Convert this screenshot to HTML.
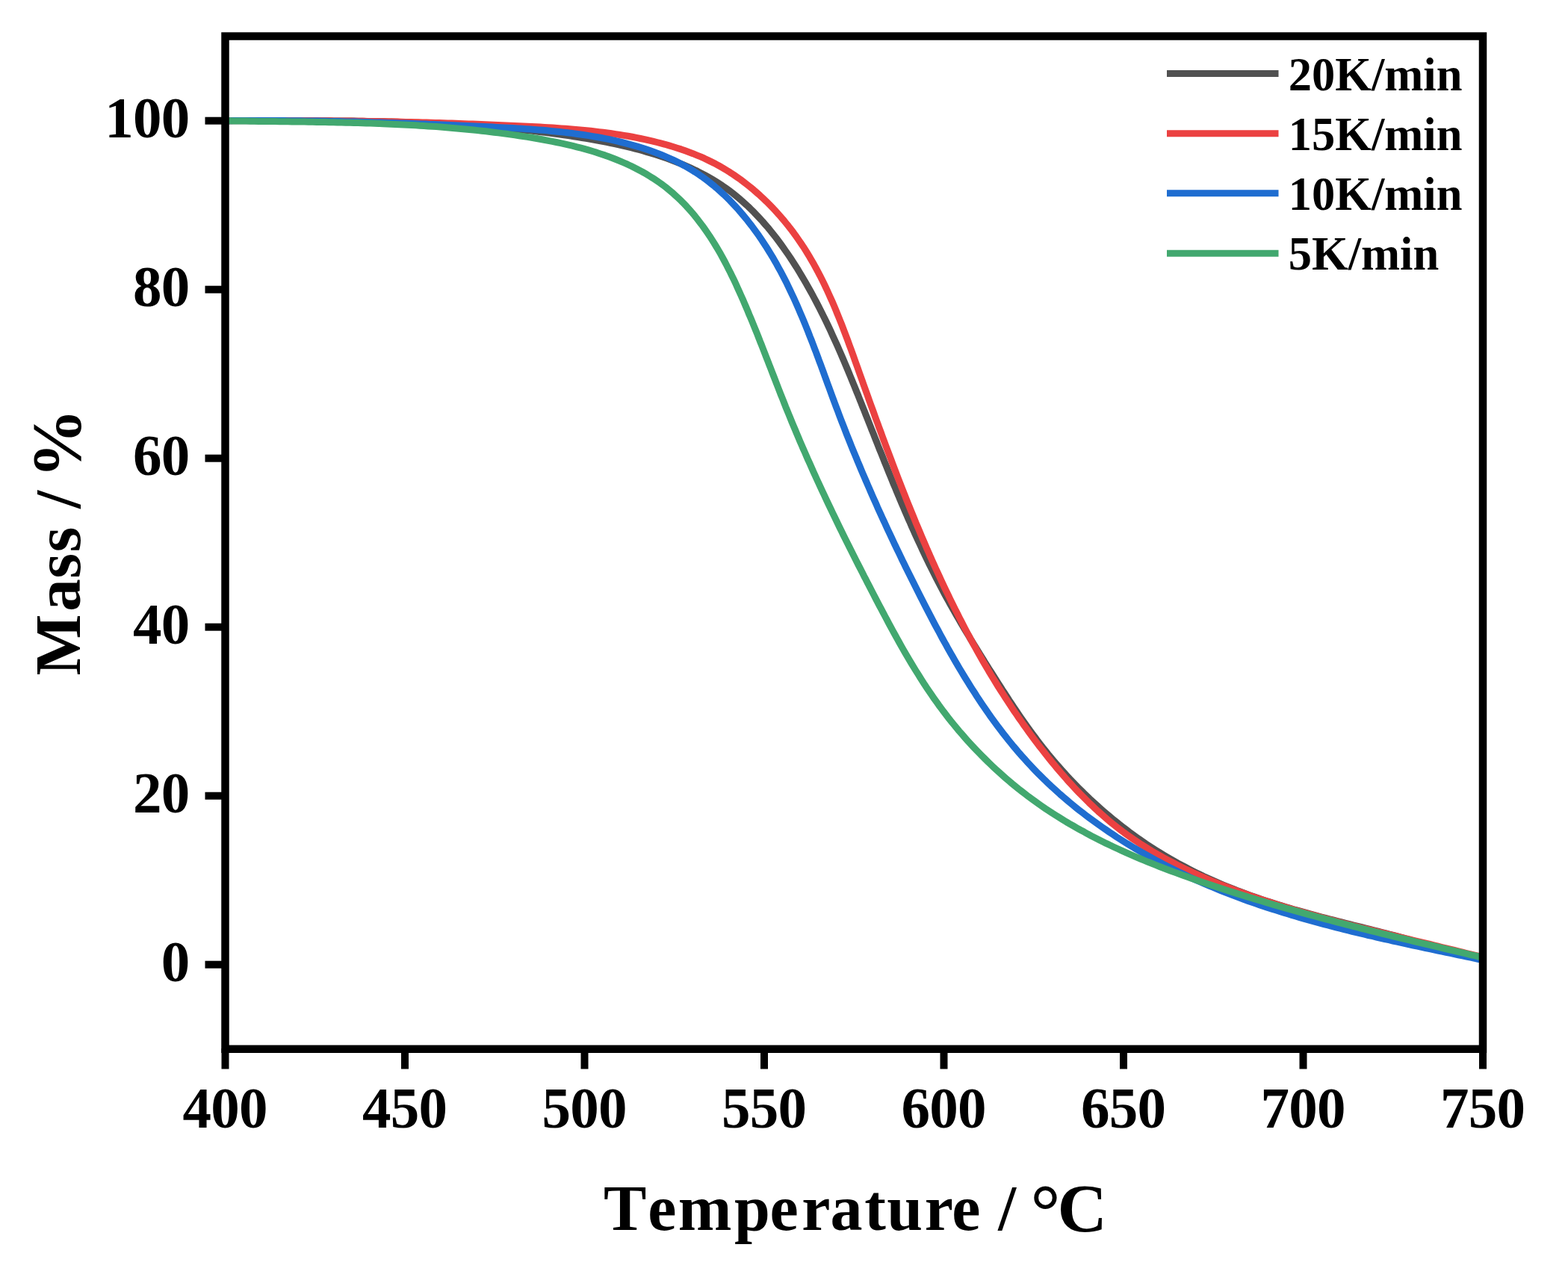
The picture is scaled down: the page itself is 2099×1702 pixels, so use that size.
<!DOCTYPE html>
<html><head><meta charset="utf-8"><title>TGA curves</title>
<style>
html,body{margin:0;padding:0;background:#fff;}
body{width:2099px;height:1702px;overflow:hidden;}
svg{display:block;}
text{font-family:'Liberation Serif','Times New Roman',serif;font-weight:bold;fill:#000;}
.tk{font-size:79px;letter-spacing:-0.8px;}
.lg{font-size:62.5px;}
.ax{font-size:88px;letter-spacing:1.15px;}
</style></head>
<body>
<svg width="2099" height="1702" viewBox="0 0 2099 1702">
<rect width="2099" height="1702" fill="#fff"/>
<path d="M301.5,161.7 L307.1,161.7 L312.6,161.7 L318.2,161.7 L323.8,161.7 L329.3,161.7 L334.9,161.7 L340.5,161.7 L346.0,161.7 L351.6,161.7 L357.2,161.7 L362.8,161.7 L368.3,161.7 L373.9,161.6 L379.5,161.6 L385.0,161.6 L390.6,161.6 L396.2,161.7 L401.7,161.7 L407.3,161.7 L412.9,161.7 L418.4,161.7 L424.0,161.7 L429.6,161.8 L435.1,161.8 L440.7,161.8 L446.3,161.9 L451.8,161.9 L457.4,162.0 L463.0,162.0 L468.5,162.1 L474.1,162.1 L479.7,162.2 L485.2,162.3 L490.8,162.4 L496.3,162.5 L501.9,162.6 L507.5,162.7 L513.0,162.8 L518.6,163.0 L524.2,163.1 L529.7,163.3 L535.3,163.4 L540.8,163.6 L546.4,163.8 L551.9,164.0 L557.5,164.2 L563.1,164.4 L568.6,164.6 L574.2,164.8 L579.7,165.1 L585.3,165.3 L590.8,165.6 L596.4,165.9 L601.9,166.2 L607.5,166.5 L613.0,166.8 L618.6,167.2 L624.1,167.5 L629.7,167.9 L635.2,168.3 L640.8,168.7 L646.3,169.1 L651.8,169.5 L657.4,170.0 L662.9,170.4 L668.5,170.9 L674.0,171.4 L679.6,171.9 L685.1,172.5 L690.6,173.0 L696.2,173.6 L701.7,174.2 L707.2,174.8 L712.8,175.4 L718.3,176.0 L723.8,176.7 L729.3,177.4 L734.9,178.1 L740.4,178.8 L745.9,179.5 L751.4,180.3 L757.0,181.1 L762.5,181.9 L768.0,182.7 L773.5,183.6 L779.0,184.5 L784.5,185.4 L790.1,186.3 L795.6,187.3 L801.0,188.3 L806.5,189.3 L812.0,190.4 L817.5,191.5 L822.9,192.7 L828.4,193.9 L833.8,195.1 L839.3,196.4 L844.7,197.7 L850.1,199.1 L855.5,200.5 L860.9,202.0 L866.2,203.6 L871.6,205.1 L876.9,206.8 L882.2,208.5 L887.5,210.3 L892.8,212.1 L898.0,214.0 L903.2,216.0 L908.4,218.1 L913.6,220.2 L918.7,222.4 L923.8,224.6 L928.8,227.0 L933.8,229.4 L938.7,231.9 L943.6,234.5 L948.5,237.2 L953.2,239.9 L958.0,242.8 L962.6,245.8 L967.2,248.8 L971.7,252.0 L976.2,255.2 L980.6,258.5 L984.9,262.0 L989.1,265.5 L993.3,269.1 L997.4,272.8 L1001.5,276.5 L1005.4,280.4 L1009.4,284.3 L1013.2,288.3 L1017.0,292.4 L1020.8,296.5 L1024.4,300.7 L1028.1,304.9 L1031.6,309.3 L1035.1,313.6 L1038.6,318.0 L1042.0,322.5 L1045.3,327.0 L1048.6,331.6 L1051.8,336.2 L1055.0,340.8 L1058.2,345.5 L1061.2,350.2 L1064.3,355.0 L1067.3,359.7 L1070.2,364.5 L1073.1,369.3 L1076.0,374.2 L1078.8,379.0 L1081.6,383.9 L1084.3,388.7 L1087.0,393.6 L1089.6,398.5 L1092.2,403.4 L1094.8,408.4 L1097.3,413.3 L1099.8,418.3 L1102.3,423.2 L1104.8,428.2 L1107.2,433.2 L1109.6,438.2 L1111.9,443.2 L1114.2,448.3 L1116.5,453.3 L1118.8,458.3 L1121.1,463.4 L1123.3,468.5 L1125.5,473.5 L1127.7,478.6 L1129.9,483.7 L1132.0,488.8 L1134.2,493.9 L1136.3,499.0 L1138.4,504.1 L1140.5,509.2 L1142.6,514.4 L1144.7,519.5 L1146.8,524.7 L1148.9,529.8 L1150.9,535.0 L1153.0,540.1 L1155.0,545.3 L1157.1,550.4 L1159.1,555.6 L1161.2,560.8 L1163.2,565.9 L1165.3,571.1 L1167.3,576.3 L1169.4,581.4 L1171.4,586.6 L1173.5,591.8 L1175.5,597.0 L1177.6,602.2 L1179.7,607.3 L1181.8,612.5 L1183.8,617.7 L1185.9,622.8 L1188.0,628.0 L1190.1,633.2 L1192.2,638.4 L1194.3,643.5 L1196.4,648.7 L1198.6,653.8 L1200.7,659.0 L1202.9,664.1 L1205.0,669.3 L1207.2,674.4 L1209.4,679.5 L1211.6,684.7 L1213.8,689.8 L1216.0,694.9 L1218.3,700.0 L1220.5,705.1 L1222.8,710.2 L1225.1,715.3 L1227.4,720.3 L1229.7,725.4 L1232.1,730.4 L1234.4,735.5 L1236.8,740.5 L1239.2,745.6 L1241.6,750.6 L1244.0,755.6 L1246.5,760.6 L1249.0,765.5 L1251.5,770.5 L1254.0,775.5 L1256.6,780.4 L1259.1,785.3 L1261.7,790.2 L1264.3,795.1 L1267.0,800.0 L1269.7,804.9 L1272.4,809.8 L1275.1,814.6 L1277.8,819.4 L1280.6,824.3 L1283.4,829.1 L1286.2,833.9 L1289.0,838.6 L1291.8,843.4 L1294.7,848.2 L1297.6,852.9 L1300.4,857.7 L1303.3,862.4 L1306.3,867.2 L1309.2,871.9 L1312.1,876.6 L1315.1,881.3 L1318.0,886.1 L1321.0,890.8 L1323.9,895.5 L1326.9,900.2 L1329.9,904.9 L1332.9,909.6 L1335.8,914.3 L1338.8,919.0 L1341.8,923.7 L1344.9,928.3 L1347.9,933.0 L1350.9,937.7 L1354.0,942.3 L1357.1,946.9 L1360.2,951.5 L1363.3,956.2 L1366.4,960.7 L1369.6,965.3 L1372.8,969.9 L1376.0,974.4 L1379.3,978.9 L1382.6,983.4 L1385.9,987.8 L1389.2,992.3 L1392.6,996.7 L1396.0,1001.1 L1399.5,1005.4 L1403.0,1009.8 L1406.6,1014.1 L1410.1,1018.3 L1413.8,1022.6 L1417.4,1026.8 L1421.1,1031.0 L1424.8,1035.1 L1428.6,1039.2 L1432.4,1043.3 L1436.3,1047.3 L1440.1,1051.3 L1444.0,1055.3 L1448.0,1059.3 L1452.0,1063.2 L1456.0,1067.0 L1460.0,1070.9 L1464.1,1074.6 L1468.3,1078.4 L1472.4,1082.1 L1476.6,1085.8 L1480.8,1089.4 L1485.1,1093.0 L1489.4,1096.6 L1493.7,1100.1 L1498.0,1103.6 L1502.4,1107.0 L1506.9,1110.4 L1511.3,1113.8 L1515.8,1117.1 L1520.3,1120.3 L1524.8,1123.6 L1529.4,1126.7 L1534.0,1129.9 L1538.6,1132.9 L1543.3,1136.0 L1548.0,1139.0 L1552.7,1141.9 L1557.5,1144.8 L1562.2,1147.6 L1567.0,1150.4 L1571.9,1153.2 L1576.7,1155.9 L1581.6,1158.5 L1586.5,1161.1 L1591.5,1163.7 L1596.4,1166.2 L1601.4,1168.7 L1606.4,1171.1 L1611.4,1173.5 L1616.5,1175.8 L1621.6,1178.1 L1626.7,1180.4 L1631.8,1182.6 L1636.9,1184.8 L1642.0,1186.9 L1647.2,1189.0 L1652.4,1191.0 L1657.6,1193.1 L1662.8,1195.0 L1668.0,1197.0 L1673.2,1198.9 L1678.5,1200.8 L1683.7,1202.6 L1689.0,1204.4 L1694.3,1206.2 L1699.6,1207.9 L1704.9,1209.6 L1710.2,1211.3 L1715.5,1212.9 L1720.8,1214.5 L1726.2,1216.1 L1731.5,1217.7 L1736.8,1219.2 L1742.2,1220.7 L1747.6,1222.2 L1752.9,1223.7 L1758.3,1225.1 L1763.7,1226.6 L1769.0,1228.0 L1774.4,1229.4 L1779.8,1230.8 L1785.2,1232.2 L1790.6,1233.6 L1796.0,1234.9 L1801.4,1236.3 L1806.8,1237.7 L1812.2,1239.0 L1817.6,1240.4 L1823.0,1241.7 L1828.4,1243.1 L1833.8,1244.4 L1839.2,1245.8 L1844.6,1247.2 L1850.0,1248.6 L1855.3,1249.9 L1860.7,1251.3 L1866.1,1252.7 L1871.5,1254.2 L1876.9,1255.6 L1882.2,1257.1 L1887.6,1258.5 L1893.0,1260.0 L1898.3,1261.5 L1903.7,1263.1 L1909.0,1264.6 L1914.4,1266.2 L1919.7,1267.7 L1925.1,1269.2 L1930.4,1270.7 L1935.8,1272.2 L1941.2,1273.6 L1946.6,1275.0 L1952.0,1276.2 L1957.4,1277.4 L1962.9,1278.5 L1968.4,1279.5 L1973.9,1280.4 L1979.4,1281.2 L1985.0,1281.8" fill="none" stroke="#515151" stroke-width="9.0" stroke-linejoin="round" stroke-linecap="butt"/>
<path d="M301.5,161.7 L307.2,161.7 L312.8,161.6 L318.5,161.6 L324.1,161.6 L329.8,161.6 L335.4,161.5 L341.1,161.5 L346.7,161.5 L352.3,161.5 L358.0,161.5 L363.6,161.5 L369.2,161.5 L374.9,161.5 L380.5,161.5 L386.1,161.5 L391.7,161.5 L397.4,161.5 L403.0,161.5 L408.6,161.6 L414.2,161.6 L419.8,161.6 L425.5,161.7 L431.1,161.7 L436.7,161.8 L442.3,161.8 L447.9,161.9 L453.5,161.9 L459.1,162.0 L464.7,162.0 L470.3,162.1 L475.9,162.2 L481.5,162.3 L487.2,162.3 L492.8,162.4 L498.4,162.5 L504.0,162.6 L509.6,162.7 L515.2,162.8 L520.8,162.9 L526.4,163.0 L532.0,163.1 L537.6,163.3 L543.2,163.4 L548.8,163.5 L554.4,163.7 L560.0,163.8 L565.6,163.9 L571.2,164.1 L576.8,164.2 L582.4,164.4 L588.0,164.6 L593.6,164.7 L599.3,164.9 L604.9,165.1 L610.5,165.3 L616.1,165.5 L621.7,165.7 L627.3,165.9 L632.9,166.1 L638.6,166.3 L644.2,166.5 L649.8,166.7 L655.4,167.0 L661.0,167.2 L666.7,167.4 L672.3,167.7 L677.9,167.9 L683.6,168.2 L689.2,168.4 L694.8,168.7 L700.5,169.0 L706.1,169.3 L711.7,169.5 L717.4,169.8 L723.0,170.1 L728.7,170.5 L734.3,170.8 L740.0,171.1 L745.6,171.5 L751.2,171.9 L756.9,172.3 L762.5,172.8 L768.1,173.2 L773.8,173.7 L779.4,174.2 L785.0,174.8 L790.6,175.3 L796.2,176.0 L801.8,176.6 L807.4,177.3 L813.0,178.0 L818.6,178.8 L824.2,179.6 L829.7,180.5 L835.3,181.4 L840.8,182.3 L846.4,183.3 L851.9,184.4 L857.4,185.5 L862.9,186.6 L868.4,187.9 L873.9,189.1 L879.3,190.5 L884.8,191.9 L890.2,193.3 L895.6,194.9 L901.0,196.5 L906.4,198.2 L911.8,199.9 L917.1,201.8 L922.3,203.7 L927.6,205.7 L932.8,207.8 L938.0,209.9 L943.1,212.2 L948.1,214.6 L953.2,217.1 L958.1,219.6 L963.0,222.3 L967.9,225.1 L972.7,228.0 L977.4,230.9 L982.1,234.0 L986.7,237.2 L991.3,240.4 L995.8,243.8 L1000.2,247.2 L1004.6,250.7 L1008.9,254.3 L1013.1,258.0 L1017.3,261.7 L1021.4,265.5 L1025.5,269.4 L1029.5,273.4 L1033.4,277.4 L1037.3,281.5 L1041.1,285.7 L1044.8,289.9 L1048.5,294.2 L1052.0,298.5 L1055.6,302.9 L1059.0,307.3 L1062.4,311.8 L1065.7,316.4 L1068.9,321.0 L1072.1,325.6 L1075.2,330.2 L1078.2,334.9 L1081.1,339.7 L1084.0,344.4 L1086.8,349.3 L1089.6,354.1 L1092.3,359.0 L1094.9,363.9 L1097.5,368.8 L1100.0,373.8 L1102.5,378.8 L1104.9,383.8 L1107.3,388.9 L1109.6,394.0 L1111.9,399.1 L1114.2,404.2 L1116.4,409.3 L1118.6,414.5 L1120.7,419.7 L1122.8,424.9 L1124.9,430.1 L1127.0,435.3 L1129.0,440.6 L1131.0,445.8 L1133.0,451.1 L1135.0,456.4 L1136.9,461.7 L1138.9,467.0 L1140.8,472.3 L1142.7,477.6 L1144.6,482.9 L1146.5,488.2 L1148.4,493.6 L1150.3,498.9 L1152.2,504.2 L1154.1,509.5 L1156.0,514.9 L1157.9,520.2 L1159.8,525.5 L1161.7,530.8 L1163.6,536.2 L1165.5,541.5 L1167.5,546.8 L1169.4,552.1 L1171.3,557.4 L1173.2,562.7 L1175.2,568.0 L1177.1,573.4 L1179.1,578.7 L1181.0,584.0 L1183.0,589.3 L1184.9,594.6 L1186.9,599.9 L1188.9,605.2 L1190.9,610.4 L1192.9,615.7 L1194.9,621.0 L1196.9,626.3 L1198.9,631.6 L1200.9,636.8 L1202.9,642.1 L1205.0,647.4 L1207.0,652.6 L1209.1,657.9 L1211.2,663.1 L1213.2,668.3 L1215.3,673.6 L1217.4,678.8 L1219.5,684.0 L1221.7,689.2 L1223.8,694.4 L1225.9,699.7 L1228.1,704.8 L1230.3,710.0 L1232.5,715.2 L1234.6,720.4 L1236.9,725.6 L1239.1,730.7 L1241.3,735.9 L1243.6,741.0 L1245.8,746.2 L1248.1,751.3 L1250.4,756.4 L1252.7,761.5 L1255.1,766.6 L1257.4,771.7 L1259.8,776.8 L1262.1,781.9 L1264.5,787.0 L1266.9,792.0 L1269.4,797.1 L1271.8,802.1 L1274.3,807.2 L1276.8,812.2 L1279.2,817.2 L1281.8,822.2 L1284.3,827.2 L1286.9,832.2 L1289.4,837.1 L1292.0,842.1 L1294.6,847.0 L1297.3,852.0 L1299.9,856.9 L1302.6,861.8 L1305.3,866.7 L1308.0,871.6 L1310.8,876.5 L1313.5,881.3 L1316.3,886.2 L1319.1,891.0 L1322.0,895.8 L1324.8,900.7 L1327.7,905.5 L1330.6,910.2 L1333.6,915.0 L1336.5,919.8 L1339.5,924.5 L1342.5,929.2 L1345.5,933.9 L1348.6,938.6 L1351.7,943.3 L1354.8,948.0 L1357.9,952.7 L1361.1,957.3 L1364.2,961.9 L1367.5,966.5 L1370.7,971.1 L1374.0,975.7 L1377.3,980.3 L1380.6,984.8 L1383.9,989.3 L1387.3,993.9 L1390.7,998.4 L1394.2,1002.8 L1397.7,1007.3 L1401.2,1011.7 L1404.7,1016.2 L1408.3,1020.6 L1411.9,1024.9 L1415.5,1029.3 L1419.2,1033.6 L1422.9,1037.9 L1426.6,1042.1 L1430.4,1046.4 L1434.2,1050.6 L1438.0,1054.7 L1441.9,1058.8 L1445.8,1062.9 L1449.8,1066.9 L1453.8,1070.9 L1457.8,1074.9 L1461.9,1078.8 L1466.0,1082.7 L1470.1,1086.5 L1474.3,1090.2 L1478.5,1093.9 L1482.8,1097.6 L1487.1,1101.2 L1491.5,1104.7 L1495.9,1108.2 L1500.3,1111.6 L1504.8,1115.0 L1509.4,1118.3 L1513.9,1121.5 L1518.6,1124.7 L1523.2,1127.8 L1527.9,1130.9 L1532.7,1133.9 L1537.4,1136.9 L1542.2,1139.8 L1547.1,1142.6 L1551.9,1145.4 L1556.8,1148.2 L1561.8,1150.9 L1566.7,1153.5 L1571.7,1156.1 L1576.7,1158.7 L1581.7,1161.2 L1586.8,1163.7 L1591.9,1166.1 L1597.0,1168.5 L1602.1,1170.8 L1607.2,1173.2 L1612.4,1175.4 L1617.5,1177.6 L1622.7,1179.8 L1627.9,1182.0 L1633.1,1184.1 L1638.3,1186.2 L1643.6,1188.3 L1648.8,1190.3 L1654.1,1192.3 L1659.3,1194.2 L1664.6,1196.1 L1669.9,1198.0 L1675.2,1199.9 L1680.5,1201.7 L1685.8,1203.5 L1691.2,1205.3 L1696.5,1207.1 L1701.9,1208.8 L1707.2,1210.5 L1712.6,1212.2 L1717.9,1213.9 L1723.3,1215.5 L1728.7,1217.1 L1734.1,1218.7 L1739.5,1220.3 L1744.9,1221.8 L1750.3,1223.4 L1755.8,1224.9 L1761.2,1226.4 L1766.6,1227.9 L1772.0,1229.3 L1777.5,1230.8 L1782.9,1232.2 L1788.4,1233.7 L1793.8,1235.1 L1799.3,1236.5 L1804.8,1237.9 L1810.2,1239.3 L1815.7,1240.6 L1821.2,1242.0 L1826.6,1243.3 L1832.1,1244.7 L1837.6,1246.0 L1843.0,1247.4 L1848.5,1248.7 L1854.0,1250.0 L1859.5,1251.3 L1864.9,1252.7 L1870.4,1254.0 L1875.9,1255.3 L1881.4,1256.6 L1886.8,1257.9 L1892.3,1259.3 L1897.8,1260.6 L1903.2,1261.9 L1908.7,1263.2 L1914.2,1264.5 L1919.6,1265.9 L1925.1,1267.2 L1930.5,1268.5 L1936.0,1269.9 L1941.4,1271.2 L1946.9,1272.5 L1952.3,1273.9 L1957.8,1275.2 L1963.2,1276.5 L1968.7,1277.9 L1974.1,1279.2 L1979.6,1280.5 L1985.0,1281.8" fill="none" stroke="#eb4141" stroke-width="9.0" stroke-linejoin="round" stroke-linecap="butt"/>
<path d="M301.5,161.7 L307.1,161.7 L312.8,161.6 L318.4,161.6 L324.1,161.5 L329.7,161.5 L335.3,161.5 L340.9,161.5 L346.6,161.5 L352.2,161.5 L357.8,161.5 L363.4,161.5 L369.0,161.6 L374.6,161.6 L380.2,161.6 L385.8,161.7 L391.4,161.7 L397.0,161.8 L402.6,161.8 L408.2,161.9 L413.7,162.0 L419.3,162.0 L424.9,162.1 L430.5,162.2 L436.1,162.3 L441.6,162.4 L447.2,162.5 L452.8,162.6 L458.4,162.7 L463.9,162.9 L469.5,163.0 L475.1,163.1 L480.6,163.3 L486.2,163.4 L491.8,163.6 L497.4,163.7 L502.9,163.9 L508.5,164.0 L514.1,164.2 L519.6,164.4 L525.2,164.6 L530.8,164.7 L536.3,164.9 L541.9,165.1 L547.5,165.3 L553.0,165.5 L558.6,165.7 L564.2,165.9 L569.8,166.1 L575.3,166.4 L580.9,166.6 L586.5,166.8 L592.1,167.0 L597.6,167.3 L603.2,167.5 L608.8,167.8 L614.4,168.0 L620.0,168.3 L625.6,168.5 L631.2,168.8 L636.8,169.0 L642.4,169.3 L648.0,169.6 L653.6,169.8 L659.2,170.1 L664.8,170.4 L670.4,170.7 L676.0,171.0 L681.6,171.3 L687.2,171.6 L692.9,171.9 L698.5,172.3 L704.1,172.7 L709.7,173.0 L715.3,173.5 L720.9,173.9 L726.5,174.3 L732.1,174.8 L737.8,175.4 L743.4,175.9 L749.0,176.5 L754.5,177.1 L760.1,177.8 L765.7,178.4 L771.3,179.2 L776.9,180.0 L782.4,180.8 L788.0,181.6 L793.5,182.6 L799.1,183.5 L804.6,184.5 L810.2,185.6 L815.7,186.7 L821.2,187.9 L826.7,189.2 L832.2,190.5 L837.6,191.9 L843.1,193.3 L848.5,194.8 L853.9,196.4 L859.3,198.0 L864.7,199.8 L870.0,201.6 L875.3,203.5 L880.5,205.4 L885.7,207.5 L890.8,209.6 L895.9,211.8 L901.0,214.1 L906.0,216.6 L910.9,219.1 L915.8,221.7 L920.6,224.4 L925.3,227.2 L930.0,230.1 L934.6,233.1 L939.2,236.2 L943.6,239.4 L948.0,242.7 L952.3,246.1 L956.6,249.6 L960.8,253.2 L964.9,256.9 L969.0,260.6 L972.9,264.4 L976.9,268.3 L980.7,272.3 L984.5,276.4 L988.3,280.5 L991.9,284.7 L995.5,289.0 L999.1,293.3 L1002.5,297.7 L1006.0,302.1 L1009.3,306.6 L1012.6,311.1 L1015.9,315.7 L1019.0,320.3 L1022.1,325.0 L1025.2,329.7 L1028.2,334.5 L1031.2,339.3 L1034.1,344.1 L1036.9,349.0 L1039.7,353.8 L1042.4,358.8 L1045.1,363.7 L1047.7,368.6 L1050.3,373.6 L1052.8,378.6 L1055.3,383.7 L1057.7,388.7 L1060.1,393.8 L1062.5,398.9 L1064.8,404.0 L1067.1,409.1 L1069.3,414.2 L1071.5,419.4 L1073.7,424.5 L1075.9,429.7 L1078.0,434.9 L1080.1,440.1 L1082.2,445.3 L1084.2,450.6 L1086.3,455.8 L1088.3,461.0 L1090.3,466.3 L1092.3,471.5 L1094.3,476.8 L1096.2,482.1 L1098.2,487.3 L1100.1,492.6 L1102.1,497.9 L1104.0,503.2 L1105.9,508.4 L1107.8,513.7 L1109.8,519.0 L1111.7,524.2 L1113.6,529.5 L1115.6,534.8 L1117.5,540.0 L1119.5,545.3 L1121.5,550.5 L1123.4,555.7 L1125.4,561.0 L1127.4,566.2 L1129.5,571.4 L1131.5,576.6 L1133.5,581.8 L1135.6,587.0 L1137.7,592.2 L1139.7,597.3 L1141.8,602.5 L1144.0,607.7 L1146.1,612.8 L1148.2,618.0 L1150.4,623.1 L1152.5,628.2 L1154.7,633.4 L1156.9,638.5 L1159.1,643.6 L1161.3,648.7 L1163.5,653.8 L1165.7,658.9 L1167.9,664.0 L1170.2,669.1 L1172.5,674.2 L1174.7,679.3 L1177.0,684.3 L1179.3,689.4 L1181.6,694.5 L1184.0,699.5 L1186.3,704.6 L1188.6,709.6 L1191.0,714.7 L1193.4,719.7 L1195.8,724.8 L1198.1,729.8 L1200.6,734.9 L1203.0,739.9 L1205.4,744.9 L1207.8,750.0 L1210.3,755.0 L1212.7,760.0 L1215.2,765.0 L1217.7,770.0 L1220.2,775.1 L1222.7,780.1 L1225.2,785.1 L1227.7,790.1 L1230.2,795.1 L1232.8,800.1 L1235.3,805.1 L1237.9,810.1 L1240.5,815.1 L1243.1,820.1 L1245.7,825.1 L1248.3,830.1 L1250.9,835.1 L1253.6,840.1 L1256.3,845.0 L1258.9,850.0 L1261.6,855.0 L1264.3,859.9 L1267.1,864.8 L1269.8,869.8 L1272.6,874.7 L1275.4,879.6 L1278.2,884.4 L1281.0,889.3 L1283.9,894.2 L1286.8,899.0 L1289.7,903.8 L1292.6,908.6 L1295.6,913.4 L1298.5,918.2 L1301.5,922.9 L1304.6,927.6 L1307.6,932.3 L1310.7,937.0 L1313.8,941.7 L1316.9,946.3 L1320.1,950.9 L1323.3,955.5 L1326.5,960.1 L1329.8,964.6 L1333.1,969.1 L1336.4,973.6 L1339.8,978.0 L1343.2,982.4 L1346.6,986.8 L1350.1,991.2 L1353.6,995.5 L1357.1,999.8 L1360.7,1004.0 L1364.3,1008.3 L1368.0,1012.5 L1371.7,1016.6 L1375.4,1020.7 L1379.2,1024.8 L1383.0,1028.8 L1386.8,1032.8 L1390.7,1036.8 L1394.7,1040.7 L1398.6,1044.6 L1402.6,1048.4 L1406.7,1052.3 L1410.8,1056.0 L1414.9,1059.8 L1419.0,1063.5 L1423.2,1067.1 L1427.5,1070.7 L1431.7,1074.3 L1436.0,1077.9 L1440.3,1081.4 L1444.7,1084.9 L1449.1,1088.3 L1453.5,1091.7 L1458.0,1095.1 L1462.5,1098.4 L1467.0,1101.7 L1471.5,1104.9 L1476.1,1108.1 L1480.7,1111.3 L1485.3,1114.5 L1490.0,1117.6 L1494.6,1120.7 L1499.4,1123.7 L1504.1,1126.7 L1508.8,1129.7 L1513.6,1132.6 L1518.4,1135.5 L1523.3,1138.3 L1528.1,1141.2 L1533.0,1144.0 L1537.9,1146.7 L1542.8,1149.4 L1547.7,1152.1 L1552.7,1154.8 L1557.6,1157.4 L1562.6,1160.0 L1567.6,1162.5 L1572.7,1165.0 L1577.7,1167.5 L1582.8,1169.9 L1587.8,1172.3 L1592.9,1174.7 L1598.0,1177.1 L1603.1,1179.4 L1608.3,1181.6 L1613.4,1183.9 L1618.6,1186.1 L1623.7,1188.2 L1628.9,1190.4 L1634.1,1192.5 L1639.3,1194.6 L1644.5,1196.6 L1649.7,1198.6 L1655.0,1200.6 L1660.2,1202.5 L1665.4,1204.5 L1670.7,1206.4 L1676.0,1208.2 L1681.3,1210.1 L1686.5,1211.9 L1691.8,1213.6 L1697.1,1215.4 L1702.5,1217.1 L1707.8,1218.8 L1713.1,1220.5 L1718.4,1222.2 L1723.8,1223.8 L1729.1,1225.4 L1734.5,1227.0 L1739.9,1228.6 L1745.2,1230.1 L1750.6,1231.7 L1756.0,1233.2 L1761.4,1234.7 L1766.8,1236.1 L1772.2,1237.6 L1777.6,1239.0 L1783.0,1240.4 L1788.4,1241.8 L1793.8,1243.2 L1799.3,1244.6 L1804.7,1245.9 L1810.1,1247.3 L1815.6,1248.6 L1821.0,1249.9 L1826.5,1251.2 L1831.9,1252.5 L1837.4,1253.7 L1842.8,1255.0 L1848.3,1256.3 L1853.7,1257.5 L1859.2,1258.7 L1864.7,1260.0 L1870.1,1261.2 L1875.6,1262.4 L1881.1,1263.6 L1886.6,1264.8 L1892.0,1266.0 L1897.5,1267.1 L1903.0,1268.3 L1908.4,1269.5 L1913.9,1270.7 L1919.4,1271.8 L1924.9,1273.0 L1930.3,1274.1 L1935.8,1275.3 L1941.3,1276.4 L1946.8,1277.6 L1952.2,1278.8 L1957.7,1279.9 L1963.2,1281.1 L1968.6,1282.2 L1974.1,1283.4 L1979.5,1284.6 L1985.0,1285.7" fill="none" stroke="#1f6dd0" stroke-width="9.0" stroke-linejoin="round" stroke-linecap="butt"/>
<path d="M301.5,161.7 L307.1,161.8 L312.7,161.9 L318.3,162.0 L323.9,162.1 L329.5,162.1 L335.1,162.2 L340.7,162.3 L346.3,162.4 L351.9,162.4 L357.4,162.5 L363.0,162.6 L368.6,162.6 L374.1,162.7 L379.7,162.8 L385.3,162.8 L390.8,162.9 L396.4,163.0 L401.9,163.1 L407.5,163.1 L413.0,163.2 L418.5,163.3 L424.1,163.4 L429.6,163.5 L435.1,163.6 L440.7,163.7 L446.2,163.8 L451.7,163.9 L457.2,164.0 L462.8,164.2 L468.3,164.3 L473.8,164.4 L479.3,164.6 L484.8,164.7 L490.3,164.9 L495.9,165.1 L501.4,165.3 L506.9,165.5 L512.4,165.7 L517.9,165.9 L523.4,166.2 L528.9,166.4 L534.4,166.7 L540.0,166.9 L545.5,167.2 L551.0,167.5 L556.5,167.8 L562.0,168.2 L567.5,168.5 L573.0,168.9 L578.5,169.3 L584.1,169.6 L589.6,170.1 L595.1,170.5 L600.6,170.9 L606.1,171.4 L611.7,171.9 L617.2,172.4 L622.7,172.9 L628.2,173.5 L633.8,174.0 L639.3,174.6 L644.8,175.2 L650.4,175.8 L655.9,176.5 L661.5,177.2 L667.0,177.9 L672.6,178.6 L678.1,179.3 L683.7,180.1 L689.2,180.9 L694.8,181.7 L700.4,182.6 L705.9,183.4 L711.5,184.3 L717.1,185.3 L722.7,186.2 L728.2,187.2 L733.8,188.3 L739.3,189.4 L744.9,190.5 L750.4,191.6 L755.9,192.8 L761.4,194.1 L766.9,195.4 L772.3,196.8 L777.8,198.2 L783.2,199.7 L788.5,201.2 L793.9,202.8 L799.2,204.4 L804.5,206.2 L809.7,207.9 L814.9,209.8 L820.1,211.7 L825.2,213.7 L830.3,215.8 L835.3,218.0 L840.3,220.2 L845.2,222.5 L850.1,225.0 L854.9,227.5 L859.7,230.0 L864.4,232.7 L869.0,235.5 L873.6,238.3 L878.1,241.3 L882.6,244.4 L887.0,247.5 L891.3,250.8 L895.5,254.2 L899.7,257.7 L903.7,261.3 L907.7,265.0 L911.7,268.8 L915.5,272.7 L919.3,276.7 L923.0,280.8 L926.6,284.9 L930.2,289.2 L933.6,293.5 L937.0,297.9 L940.4,302.4 L943.6,306.9 L946.8,311.5 L950.0,316.2 L953.0,320.9 L956.0,325.6 L958.9,330.4 L961.8,335.3 L964.6,340.1 L967.3,345.0 L970.0,350.0 L972.6,355.0 L975.1,360.0 L977.7,365.0 L980.1,370.0 L982.6,375.1 L985.0,380.2 L987.3,385.3 L989.6,390.4 L991.9,395.5 L994.2,400.6 L996.4,405.8 L998.6,410.9 L1000.8,416.0 L1002.9,421.2 L1005.1,426.3 L1007.2,431.4 L1009.3,436.6 L1011.4,441.7 L1013.5,446.9 L1015.5,452.0 L1017.5,457.2 L1019.6,462.3 L1021.6,467.5 L1023.6,472.6 L1025.6,477.8 L1027.6,482.9 L1029.6,488.1 L1031.6,493.2 L1033.6,498.4 L1035.6,503.5 L1037.6,508.7 L1039.6,513.8 L1041.6,519.0 L1043.6,524.1 L1045.6,529.3 L1047.7,534.4 L1049.7,539.5 L1051.7,544.7 L1053.8,549.8 L1055.9,554.9 L1058.0,560.0 L1060.1,565.2 L1062.2,570.3 L1064.4,575.4 L1066.5,580.5 L1068.7,585.6 L1070.8,590.7 L1073.0,595.8 L1075.2,600.9 L1077.5,606.0 L1079.7,611.1 L1081.9,616.2 L1084.2,621.2 L1086.5,626.3 L1088.7,631.4 L1091.0,636.4 L1093.3,641.5 L1095.7,646.6 L1098.0,651.6 L1100.3,656.6 L1102.7,661.7 L1105.0,666.7 L1107.4,671.7 L1109.8,676.7 L1112.2,681.7 L1114.6,686.8 L1117.0,691.8 L1119.4,696.8 L1121.8,701.7 L1124.2,706.7 L1126.7,711.7 L1129.1,716.7 L1131.6,721.7 L1134.1,726.7 L1136.5,731.6 L1139.0,736.6 L1141.5,741.6 L1144.0,746.5 L1146.5,751.5 L1149.0,756.4 L1151.6,761.4 L1154.1,766.3 L1156.6,771.3 L1159.2,776.2 L1161.7,781.2 L1164.3,786.1 L1166.8,791.0 L1169.4,796.0 L1171.9,800.9 L1174.5,805.8 L1177.1,810.8 L1179.7,815.7 L1182.3,820.6 L1184.9,825.5 L1187.5,830.4 L1190.1,835.3 L1192.7,840.2 L1195.4,845.1 L1198.1,850.0 L1200.8,854.9 L1203.5,859.7 L1206.2,864.6 L1208.9,869.4 L1211.7,874.2 L1214.5,879.0 L1217.3,883.8 L1220.2,888.6 L1223.0,893.3 L1225.9,898.0 L1228.9,902.7 L1231.8,907.4 L1234.8,912.1 L1237.8,916.8 L1240.9,921.4 L1244.0,926.0 L1247.1,930.6 L1250.2,935.1 L1253.5,939.7 L1256.7,944.2 L1260.0,948.6 L1263.3,953.1 L1266.7,957.5 L1270.1,961.9 L1273.5,966.2 L1277.0,970.5 L1280.6,974.8 L1284.1,979.1 L1287.8,983.3 L1291.4,987.5 L1295.1,991.7 L1298.8,995.8 L1302.6,999.9 L1306.4,1003.9 L1310.3,1007.9 L1314.2,1011.9 L1318.1,1015.8 L1322.1,1019.7 L1326.1,1023.6 L1330.1,1027.4 L1334.2,1031.2 L1338.3,1034.9 L1342.4,1038.6 L1346.6,1042.3 L1350.8,1045.9 L1355.0,1049.5 L1359.3,1053.0 L1363.6,1056.5 L1368.0,1059.9 L1372.4,1063.3 L1376.8,1066.7 L1381.2,1069.9 L1385.7,1073.2 L1390.2,1076.4 L1394.8,1079.6 L1399.3,1082.7 L1403.9,1085.7 L1408.5,1088.8 L1413.2,1091.8 L1417.9,1094.7 L1422.6,1097.6 L1427.3,1100.5 L1432.1,1103.3 L1436.9,1106.0 L1441.7,1108.8 L1446.5,1111.5 L1451.4,1114.1 L1456.2,1116.8 L1461.1,1119.4 L1466.1,1121.9 L1471.0,1124.4 L1476.0,1126.9 L1480.9,1129.4 L1485.9,1131.8 L1491.0,1134.2 L1496.0,1136.5 L1501.1,1138.8 L1506.1,1141.1 L1511.2,1143.4 L1516.3,1145.6 L1521.4,1147.8 L1526.6,1150.0 L1531.7,1152.1 L1536.9,1154.3 L1542.0,1156.3 L1547.2,1158.4 L1552.4,1160.5 L1557.6,1162.5 L1562.8,1164.5 L1568.0,1166.4 L1573.3,1168.4 L1578.5,1170.3 L1583.8,1172.2 L1589.0,1174.1 L1594.3,1176.0 L1599.5,1177.8 L1604.8,1179.7 L1610.1,1181.5 L1615.3,1183.3 L1620.6,1185.1 L1625.9,1186.8 L1631.2,1188.6 L1636.5,1190.3 L1641.8,1192.0 L1647.1,1193.7 L1652.4,1195.4 L1657.7,1197.1 L1663.0,1198.7 L1668.3,1200.4 L1673.6,1202.0 L1678.9,1203.6 L1684.2,1205.2 L1689.5,1206.8 L1694.8,1208.4 L1700.1,1210.0 L1705.4,1211.6 L1710.8,1213.1 L1716.1,1214.6 L1721.4,1216.2 L1726.7,1217.7 L1732.1,1219.2 L1737.4,1220.7 L1742.7,1222.1 L1748.1,1223.6 L1753.4,1225.1 L1758.8,1226.5 L1764.1,1228.0 L1769.4,1229.4 L1774.8,1230.8 L1780.1,1232.2 L1785.5,1233.7 L1790.9,1235.1 L1796.2,1236.4 L1801.6,1237.8 L1806.9,1239.2 L1812.3,1240.6 L1817.7,1241.9 L1823.0,1243.3 L1828.4,1244.7 L1833.8,1246.0 L1839.2,1247.3 L1844.5,1248.7 L1849.9,1250.0 L1855.3,1251.3 L1860.7,1252.7 L1866.1,1254.0 L1871.4,1255.3 L1876.8,1256.6 L1882.2,1257.9 L1887.6,1259.2 L1893.0,1260.5 L1898.4,1261.8 L1903.8,1263.1 L1909.2,1264.4 L1914.6,1265.6 L1920.0,1266.9 L1925.4,1268.2 L1930.8,1269.5 L1936.2,1270.8 L1941.6,1272.1 L1947.1,1273.3 L1952.5,1274.6 L1957.9,1275.9 L1963.3,1277.2 L1968.7,1278.5 L1974.1,1279.7 L1979.6,1281.0 L1985.0,1282.3" fill="none" stroke="#42a86f" stroke-width="9.0" stroke-linejoin="round" stroke-linecap="butt"/>
<rect x="301.5" y="48.5" width="1683.5" height="1356.25" fill="none" stroke="#000" stroke-width="10.5"/>
<line x1="301.50" y1="1404" x2="301.50" y2="1431.5" stroke="#000" stroke-width="10"/>
<text transform="translate(301.10,1509.8) scale(0.975,1)" text-anchor="middle" class="tk">400</text>
<line x1="542.00" y1="1404" x2="542.00" y2="1431.5" stroke="#000" stroke-width="10"/>
<text transform="translate(541.60,1509.8) scale(0.975,1)" text-anchor="middle" class="tk">450</text>
<line x1="782.50" y1="1404" x2="782.50" y2="1431.5" stroke="#000" stroke-width="10"/>
<text transform="translate(782.10,1509.8) scale(0.975,1)" text-anchor="middle" class="tk">500</text>
<line x1="1023.00" y1="1404" x2="1023.00" y2="1431.5" stroke="#000" stroke-width="10"/>
<text transform="translate(1022.60,1509.8) scale(0.975,1)" text-anchor="middle" class="tk">550</text>
<line x1="1263.50" y1="1404" x2="1263.50" y2="1431.5" stroke="#000" stroke-width="10"/>
<text transform="translate(1263.10,1509.8) scale(0.975,1)" text-anchor="middle" class="tk">600</text>
<line x1="1504.00" y1="1404" x2="1504.00" y2="1431.5" stroke="#000" stroke-width="10"/>
<text transform="translate(1503.60,1509.8) scale(0.975,1)" text-anchor="middle" class="tk">650</text>
<line x1="1744.50" y1="1404" x2="1744.50" y2="1431.5" stroke="#000" stroke-width="10"/>
<text transform="translate(1744.10,1509.8) scale(0.975,1)" text-anchor="middle" class="tk">700</text>
<line x1="1985.00" y1="1404" x2="1985.00" y2="1431.5" stroke="#000" stroke-width="10"/>
<text transform="translate(1984.60,1509.8) scale(0.975,1)" text-anchor="middle" class="tk">750</text>
<line x1="274.5" y1="1291.70" x2="302" y2="1291.70" stroke="#000" stroke-width="10"/>
<text transform="translate(253.4,1313.70) scale(0.975,1)" text-anchor="end" class="tk">0</text>
<line x1="274.5" y1="1065.70" x2="302" y2="1065.70" stroke="#000" stroke-width="10"/>
<text transform="translate(253.4,1087.70) scale(0.975,1)" text-anchor="end" class="tk">20</text>
<line x1="274.5" y1="839.70" x2="302" y2="839.70" stroke="#000" stroke-width="10"/>
<text transform="translate(253.4,861.70) scale(0.975,1)" text-anchor="end" class="tk">40</text>
<line x1="274.5" y1="613.70" x2="302" y2="613.70" stroke="#000" stroke-width="10"/>
<text transform="translate(253.4,635.70) scale(0.975,1)" text-anchor="end" class="tk">60</text>
<line x1="274.5" y1="387.70" x2="302" y2="387.70" stroke="#000" stroke-width="10"/>
<text transform="translate(253.4,409.70) scale(0.975,1)" text-anchor="end" class="tk">80</text>
<line x1="274.5" y1="161.70" x2="302" y2="161.70" stroke="#000" stroke-width="10"/>
<text transform="translate(253.4,183.70) scale(0.975,1)" text-anchor="end" class="tk">100</text>
<line x1="1562" y1="98.5" x2="1711.5" y2="98.5" stroke="#515151" stroke-width="9"/>
<text x="1724.8" y="120.5" class="lg">20K/min</text>
<line x1="1562" y1="178.8" x2="1711.5" y2="178.8" stroke="#eb4141" stroke-width="9"/>
<text x="1724.8" y="200.9" class="lg">15K/min</text>
<line x1="1562" y1="258.7" x2="1711.5" y2="258.7" stroke="#1f6dd0" stroke-width="9"/>
<text x="1724.8" y="280.8" class="lg">10K/min</text>
<line x1="1562" y1="339.3" x2="1711.5" y2="339.3" stroke="#42a86f" stroke-width="9"/>
<text x="1724.8" y="360.9" class="lg">5K/min</text>
<text class="ax" style="font-size:86px;letter-spacing:0" y="1646.8" x="808.0 867.3 907.8 982.9 1030.5 1073.3 1111.5 1157.3 1187.3 1237.7 1274.3 1313 1336.3 1361">Temperature / <tspan x="1379.4" y="1654.85" style="font-size:100px">°</tspan><tspan x="1415.5" y="1649" style="font-size:92px">C</tspan></text>
<text transform="translate(107.3,903) rotate(-90)" y="0" x="-1.5 84.2 128.2 163.4 197.2 222 246.2" class="ax" style="font-size:87px;letter-spacing:0">Mass / <tspan x="262.8" style="font-size:93px">%</tspan></text>
</svg>
</body></html>
